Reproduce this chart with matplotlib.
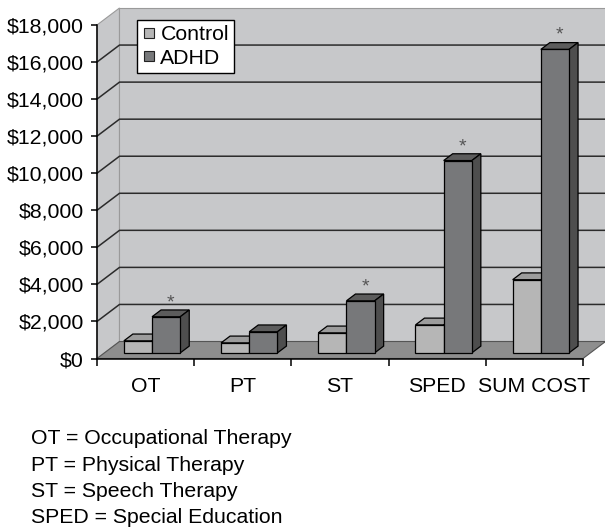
import matplotlib
matplotlib.use("Agg")
import matplotlib.pyplot as plt
from matplotlib.patches import Polygon
from matplotlib.lines import Line2D
from matplotlib.ticker import FuncFormatter, MultipleLocator, FixedLocator

plt.rcParams['font.family'] = ['Liberation Sans', 'DejaVu Sans']

categories = ["OT", "PT", "ST", "SPED", "SUM COST"]
control = [650, 540, 1080, 1510, 3950]
adhd = [1950, 1140, 2810, 10380, 16380]
significant = [True, False, True, True, True]
series_names = ["Control", "ADHD"]
footnotes = ["OT = Occupational Therapy", "PT = Physical Therapy",
             "ST = Speech Therapy", "SPED = Special Education"]

W, H = 605, 527
FS = 15.3
fig = plt.figure(figsize=(W / 100, H / 100), dpi=100)
x0p, x1p, y0p, y1p = 97, 583, 358.5, 25
ax = fig.add_axes([x0p / W, 1 - y0p / H, (x1p - x0p) / W, (y0p - y1p) / H])
ax.set_xlim(0, len(categories))
ax.set_ylim(0, 18000)
ax.patch.set_visible(False)

px_x = (x1p - x0p) / len(categories)
px_y = (y0p - y1p) / 18000
DX = 22.5 / px_x
DY = 17 / px_y

wall = "#c7c8ca"
floor = "#8e8e8e"
grid_c = "#2b2b2b"
ymax = 18000
n = len(categories)

# walls and floor
ax.add_patch(Polygon([(0, 0), (DX, DY), (DX, ymax + DY), (0, ymax)], closed=True,
                     facecolor=wall, edgecolor="#9a9a9a", lw=0.8, zorder=0, clip_on=False))
ax.add_patch(Polygon([(DX, DY), (n + DX, DY), (n + DX, ymax + DY), (DX, ymax + DY)], closed=True,
                     facecolor=wall, edgecolor="#9a9a9a", lw=0.8, zorder=0, clip_on=False))
ax.add_patch(Polygon([(0, 0), (n, 0), (n + DX, DY), (DX, DY)], closed=True,
                     facecolor=floor, edgecolor="#555555", lw=0.8, zorder=1, clip_on=False))
for v in range(2000, 18000, 2000):
    ax.plot([0, DX, n + DX], [v, v + DY, v + DY], color=grid_c, lw=1.1, zorder=0.5, clip_on=False)

# bars
f0, fd = 0.33, 0.40
bw = 0.29
styles = [
    dict(front="#b6b6b6", top="#9c9c9c", side="#8a8a8a"),
    dict(front="#77787a", top="#5c5c5c", side="#4e4e4e"),
]
z = 2
for i in range(n):
    for s, vals in enumerate([control, adhd]):
        v = vals[i]
        st = styles[s]
        bx = i + 0.49 - bw + s * bw + f0 * DX
        by = f0 * DY
        ddx, ddy = fd * DX, fd * DY
        ax.bar(bx, v, width=bw, bottom=by, align='edge', color=st["front"],
               edgecolor="black", lw=0.9, zorder=z + 0.2, clip_on=False)
        ax.add_patch(Polygon([(bx, by + v), (bx + bw, by + v), (bx + bw + ddx, by + v + ddy),
                              (bx + ddx, by + v + ddy)], closed=True, facecolor=st["top"],
                             edgecolor="black", lw=0.9, zorder=z, clip_on=False))
        ax.add_patch(Polygon([(bx + bw, by), (bx + bw, by + v), (bx + bw + ddx, by + v + ddy),
                              (bx + bw + ddx, by + ddy)], closed=True, facecolor=st["side"],
                             edgecolor="black", lw=0.9, zorder=z, clip_on=False))
        z += 1
        if s == 1 and significant[i]:
            ax.text(bx + bw / 2 + ddx / 2, by + v + ddy + 150, "*", ha='center', va='baseline',
                    fontsize=14, color="#555555", zorder=z, clip_on=False)

# axes
for sp in ["top", "right"]:
    ax.spines[sp].set_visible(False)
ax.spines["left"].set_linewidth(1.1)
ax.spines["bottom"].set_linewidth(1.1)
ax.spines["left"].set_zorder(50)
ax.spines["bottom"].set_zorder(50)
ax.yaxis.set_major_locator(MultipleLocator(2000))
ax.yaxis.set_major_formatter(FuncFormatter(lambda v, p: "${:,.0f}".format(v)))
ax.tick_params(axis='y', length=4.5, width=1.1, pad=5, labelsize=FS, colors="black")
ax.xaxis.set_major_locator(FixedLocator(range(n + 1)))
ax.xaxis.set_major_formatter(FuncFormatter(lambda v, p: ""))
ax.xaxis.set_minor_locator(FixedLocator([i + 0.5 for i in range(n)]))
ax.set_xticks([i + 0.5 for i in range(n)], categories, minor=True)
ax.tick_params(axis='x', which='major', length=5, width=1.1)
ax.tick_params(axis='x', which='minor', length=0, pad=13.5, labelsize=FS)

# legend
handles = [Line2D([], [], marker='s', linestyle='none', markersize=7,
                  markerfacecolor=styles[k]["front"], markeredgecolor="#222222", markeredgewidth=0.8)
           for k in range(2)]
leg = fig.legend(handles, series_names, loc='upper left', bbox_to_anchor=(137 / W, 1 - 20 / H),
                 frameon=True, fancybox=False, edgecolor="black", framealpha=1, fontsize=FS,
                 handlelength=0.6, handletextpad=0.25, borderpad=0.25, labelspacing=0.2,
                 borderaxespad=0)
leg.get_frame().set_linewidth(1.0)

# footnotes
for k, t in enumerate(footnotes):
    base = [444, 471, 497, 523][k]
    fig.text(31 / W, 1 - base / H, t, ha='left', va='baseline', fontsize=FS)

fig.savefig("out.png", dpi=100)
